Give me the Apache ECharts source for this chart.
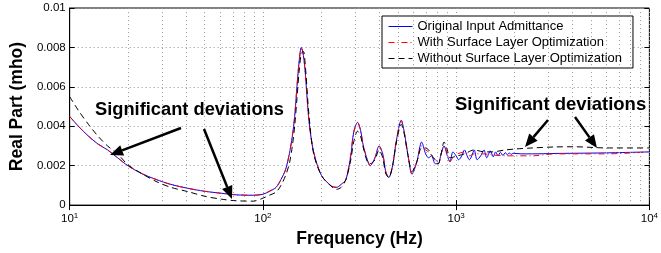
<!DOCTYPE html>
<html>
<head>
<meta charset="utf-8">
<script src="https://cdn.jsdelivr.net/npm/echarts@6/dist/echarts.min.js"></script>
<style>
  html, body { margin: 0; padding: 0; background: #fff; }
  #main { width: 661px; height: 253px; }
</style>
</head>
<body>
<div id="main"></div>
<script>
var FONT = '"Liberation Sans", Arial, Helvetica, sans-serif';

// original input admittance (blue)
var freqOrig = [10, 11.1, 12.5, 14, 15.7, 17.7, 20, 23.6, 28, 33.4,
  41, 50, 61, 72.6, 89, 100, 108, 117, 124, 131,
  137, 142, 146, 150, 154, 158, 162, 166, 173, 183,
  201, 226, 240, 254, 269, 285, 295, 309, 320, 331,
  347, 359, 380, 399, 417, 432, 448, 469, 491, 520,
  539, 564, 591, 626, 663, 695, 720, 745, 780, 808,
  836, 866, 900, 929, 962, 1000, 1030, 1070, 1105, 1140,
  1171, 1205, 1240, 1284, 1340, 1393, 1440, 1503, 1556, 1601,
  1648, 1695, 1745, 1798, 1840, 1883, 1927, 1972, 2163, 2489,
  3246, 4089, 6000, 10000];
var origVals = [0.0045, 0.0040, 0.0035, 0.0031, 0.0028, 0.0024, 0.0020, 0.0016, 0.0013, 0.00105,
  0.00085, 0.0007, 0.0006, 0.00052, 0.0005, 0.00055, 0.0007, 0.0009, 0.0013, 0.0018,
  0.0026, 0.0035, 0.0045, 0.0060, 0.0073, 0.0080, 0.0076, 0.0066, 0.0043, 0.0027,
  0.0015, 0.00097, 0.0009, 0.00105, 0.0013, 0.0025, 0.0037, 0.0042, 0.0038, 0.0030,
  0.0023, 0.0020, 0.0024, 0.0030, 0.0026, 0.0017, 0.0014, 0.0020, 0.0033, 0.0043,
  0.0037, 0.0025, 0.00157, 0.0022, 0.0032, 0.0026, 0.0024, 0.0025, 0.0021, 0.0021,
  0.0026, 0.0030, 0.0025, 0.0022, 0.0027, 0.0025, 0.0023, 0.0025, 0.0028, 0.0025,
  0.0023, 0.0025, 0.0028, 0.0023, 0.0025, 0.0028, 0.0024, 0.00275, 0.00245, 0.0027,
  0.0025, 0.00268, 0.00252, 0.00266, 0.00255, 0.00265, 0.00257, 0.00263, 0.0026, 0.0026,
  0.00262, 0.00263, 0.00265, 0.0027];

// with surface layer optimization (red dash-dot)
var freqWith = [10, 11.1, 12.5, 14, 15.7, 17.7, 20, 23.6, 28, 33.4,
  41, 50, 61, 72.6, 89, 100, 108, 117, 124, 131,
  137, 142, 146, 150, 154, 158, 162, 166, 173, 183,
  201, 226, 240, 254, 269, 285, 295, 309, 320, 331,
  347, 359, 380, 399, 417, 432, 448, 469, 491, 520,
  539, 564, 591, 626, 663, 695, 720, 763, 808, 836,
  866, 900, 929, 962, 1019, 1105, 1171, 1240, 1393, 1530,
  1800, 2044, 2489, 3246, 4089, 6000, 10000];
var withVals = [0.0045, 0.0040, 0.0035, 0.0031, 0.0028, 0.0024, 0.0020, 0.0016, 0.0013, 0.00105,
  0.00085, 0.0007, 0.0006, 0.00052, 0.0005, 0.00055, 0.0007, 0.0009, 0.0013, 0.0018,
  0.0026, 0.0035, 0.0045, 0.0060, 0.0073, 0.0080, 0.0076, 0.0066, 0.0043, 0.0027,
  0.0015, 0.00097, 0.0009, 0.00105, 0.0013, 0.0026, 0.0037, 0.0042, 0.0038, 0.0030,
  0.0023, 0.0020, 0.0024, 0.0030, 0.0026, 0.0017, 0.0014, 0.0020, 0.0033, 0.0043,
  0.0037, 0.0025, 0.00157, 0.0022, 0.0030, 0.0028, 0.0027, 0.0024, 0.0022, 0.0026,
  0.0030, 0.0026, 0.0022, 0.0024, 0.0026, 0.0027, 0.0025, 0.0026, 0.0026, 0.00255,
  0.0025, 0.0025, 0.0025, 0.0026, 0.0026, 0.0026, 0.0027];

// without surface layer optimization (black dashed)
var freqWithout = [10, 11.1, 12.5, 14, 15.7, 17.7, 20, 23.6, 28, 33.4,
  41, 50, 61, 72.6, 89, 100, 108, 117, 124, 131,
  137, 142, 146, 150, 154, 158, 162, 166, 173, 183,
  201, 226, 240, 254, 269, 285, 295, 309, 320, 331,
  347, 359, 380, 399, 417, 432, 448, 469, 491, 520,
  539, 564, 591, 626, 663, 695, 720, 763, 808, 836,
  866, 900, 929, 1019, 1105, 1240, 1393, 1530, 1800, 2044,
  2489, 3246, 4089, 6000, 10000];
var withoutVals = [0.0055, 0.0048, 0.0041, 0.0035, 0.0030, 0.0026, 0.00205, 0.0016, 0.0012, 0.0009,
  0.00068, 0.00045, 0.0003, 0.00022, 0.0002, 0.00035, 0.0005, 0.00066, 0.0010, 0.0015,
  0.0021, 0.0030, 0.0040, 0.0054, 0.0068, 0.0077, 0.0078, 0.0070, 0.0046, 0.0026,
  0.0015, 0.00095, 0.0008, 0.0009, 0.0013, 0.0023, 0.0032, 0.00375, 0.0035, 0.0029,
  0.0022, 0.0021, 0.0023, 0.0028, 0.0024, 0.0016, 0.0014, 0.0020, 0.0032, 0.0041,
  0.0036, 0.0025, 0.0017, 0.0022, 0.0029, 0.0029, 0.0028, 0.0024, 0.0021, 0.0026,
  0.0032, 0.0028, 0.0024, 0.0025, 0.0026, 0.0028, 0.0027, 0.0027, 0.0028, 0.00285,
  0.0029, 0.00295, 0.00296, 0.0029, 0.0029];

var seriesNames = ['Original Input Admittance', 'With Surface Layer Optimization', 'Without Surface Layer Optimization'];
// dotted grid lines at the log minor positions
var minorGrid = [20, 30, 40, 50, 60, 70, 80, 90, 200, 300, 400, 500, 600, 700, 800, 900,
  2000, 3000, 4000, 5000, 6000, 7000, 8000, 9000];
var noteText = 'Significant deviations';

function pairs(xs, ys) {
  return xs.map(function (x, i) { return [x, ys[i]]; });
}

var chart = echarts.init(document.getElementById('main'));

var gridDots = { type: [1, 3], color: '#999', width: 1 };

option = {
  animation: false,
  backgroundColor: '#fff',
  grid: { left: 61, right: 4, top: 8, bottom: 47, show: true, borderColor: '#000', borderWidth: 1, backgroundColor: 'transparent' },
  legend: {
    orient: 'vertical',
    left: 382,
    top: 16,
    itemWidth: 24,
    itemHeight: 14,
    itemGap: 3,
    padding: [4, 11, 3, 6],
    backgroundColor: '#fff',
    borderColor: '#000',
    borderWidth: 1,
    itemStyle: { opacity: 0 },
    lineStyle: { width: 1 },
    textStyle: { fontFamily: FONT, fontSize: 13, color: '#000' },
    data: seriesNames
  },
  xAxis: [{
    type: 'log',
    logBase: 10,
    min: 10,
    max: 10000,
    name: 'Frequency (Hz)',
    nameLocation: 'middle',
    nameGap: 24,
    nameTextStyle: { fontFamily: FONT, fontSize: 17.5, fontWeight: 'bold', color: '#000' },
    axisLine: { lineStyle: { color: '#000', width: 1 } },
    axisTick: { inside: true, length: 5, lineStyle: { color: '#000' } },
    axisLabel: {
      margin: 7,
      alignMinLabel: 'center',
      alignMaxLabel: 'center',
      formatter: function (v) { return '{b|10}{s|' + Math.round(Math.log10(v)) + '}'; },
      rich: {
        b: { fontFamily: FONT, fontSize: 11.5, color: '#000' },
        s: { fontFamily: FONT, fontSize: 8, color: '#000', verticalAlign: 'top', padding: [0, 0, 6, 0] }
      }
    },
    splitLine: { show: true, lineStyle: gridDots }
  }, {
    type: 'log', logBase: 10, min: 10, max: 10000, position: 'top',
    axisLine: { show: false }, axisLabel: { show: false }, splitLine: { show: false },
    axisTick: { inside: true, length: 5, lineStyle: { color: '#000' } }
  }],
  yAxis: [{
    type: 'value',
    min: 0,
    max: 0.01,
    interval: 0.002,
    name: 'Real Part (mho)',
    nameLocation: 'middle',
    nameGap: 38,
    nameTextStyle: { fontFamily: FONT, fontSize: 17.5, fontWeight: 'bold', color: '#000' },
    axisLine: { show: true, lineStyle: { color: '#000' } },
    axisTick: { show: true, inside: true, length: 5, lineStyle: { color: '#000' } },
    axisLabel: {
      margin: 4,
      fontFamily: FONT, fontSize: 11.5, color: '#000',
      formatter: function (v) { return v === 0 ? '0' : String(+v.toFixed(3)); }
    },
    splitLine: { show: true, lineStyle: gridDots }
  }, {
    type: 'value', min: 0, max: 0.01, interval: 0.002, position: 'right',
    axisLine: { show: false }, axisLabel: { show: false }, splitLine: { show: false },
    axisTick: { show: true, inside: true, length: 5, lineStyle: { color: '#000' } }
  }],
  series: [{
    name: seriesNames[0],
    type: 'line',
    data: pairs(freqOrig, origVals),
    smooth: 0.3,
    symbol: 'none',
    lineStyle: { color: '#0000ff', width: 1 },
    itemStyle: { color: '#0000ff' },
    markLine: {
      silent: true,
      symbol: 'none',
      label: { show: false },
      lineStyle: gridDots,
      data: minorGrid.map(function (f) { return { xAxis: f }; })
    },
    z: 3
  }, {
    name: seriesNames[1],
    type: 'line',
    data: pairs(freqWith, withVals),
    smooth: 0.3,
    symbol: 'none',
    lineStyle: { color: '#ff0000', width: 1, type: [6, 3, 1, 3] },
    itemStyle: { color: '#ff0000' },
    z: 4
  }, {
    name: seriesNames[2],
    type: 'line',
    data: pairs(freqWithout, withoutVals),
    smooth: 0.3,
    symbol: 'none',
    lineStyle: { color: '#000', width: 1, type: [6, 4] },
    itemStyle: { color: '#000' },
    z: 5
  }]
};

chart.setOption(option);

// annotation arrows (pixel positions)
function arrow(x1, y1, x2, y2) {
  var ang = Math.atan2(y2 - y1, x2 - x1);
  var hl = 13, hw = 5.5;
  var bx = x2 - hl * Math.cos(ang), by = y2 - hl * Math.sin(ang);
  var px = -Math.sin(ang) * hw, py = Math.cos(ang) * hw;
  return [{
    type: 'line', z: 100,
    shape: { x1: x1, y1: y1, x2: bx, y2: by },
    style: { stroke: '#000', lineWidth: 2.5 }
  }, {
    type: 'polygon', z: 100,
    shape: { points: [[x2, y2], [bx + px, by + py], [bx - px, by - py]] },
    style: { fill: '#000' }
  }];
}

var elements = [
  { type: 'text', z: 100, left: 95, top: 101, style: { text: noteText, font: 'bold 18.3px ' + FONT, fill: '#000' } },
  { type: 'text', z: 100, left: 455, top: 95, style: { text: noteText, font: 'bold 18.5px ' + FONT, fill: '#000' } }
];
elements = elements.concat(arrow(181, 128, 110, 155));
elements = elements.concat(arrow(204, 129, 232, 199));
elements = elements.concat(arrow(548, 120, 525, 147));
elements = elements.concat(arrow(575, 117, 597, 148));

chart.setOption({ graphic: elements });
</script>
</body>
</html>
